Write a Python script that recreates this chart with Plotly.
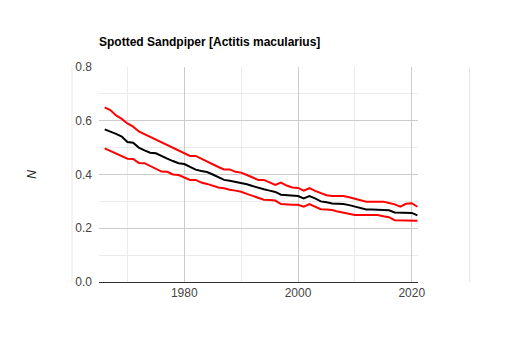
import plotly.graph_objects as go

years = list(range(1966, 2022))
index_mid = [0.568, 0.560, 0.551, 0.541, 0.521, 0.518, 0.500, 0.490, 0.481, 0.479,
             0.468, 0.459, 0.450, 0.442, 0.439, 0.429, 0.418, 0.413, 0.409, 0.400,
             0.390, 0.380, 0.377, 0.373, 0.367, 0.364, 0.357, 0.350, 0.345, 0.340,
             0.335, 0.325, 0.323, 0.321, 0.320, 0.311, 0.320, 0.311, 0.300, 0.297,
             0.292, 0.291, 0.290, 0.286, 0.280, 0.275, 0.270, 0.270, 0.269, 0.268,
             0.267, 0.259, 0.258, 0.258, 0.257, 0.248]
upper_ci = [0.650, 0.640, 0.620, 0.607, 0.590, 0.578, 0.560, 0.550, 0.540, 0.530,
            0.520, 0.510, 0.500, 0.490, 0.478, 0.469, 0.469, 0.458, 0.447, 0.437,
            0.428, 0.419, 0.419, 0.410, 0.407, 0.398, 0.389, 0.380, 0.380, 0.370,
            0.361, 0.370, 0.359, 0.352, 0.350, 0.340, 0.349, 0.339, 0.330, 0.323,
            0.320, 0.320, 0.320, 0.315, 0.309, 0.304, 0.299, 0.299, 0.299, 0.299,
            0.294, 0.289, 0.280, 0.291, 0.293, 0.280]
lower_ci = [0.497, 0.488, 0.478, 0.469, 0.459, 0.458, 0.443, 0.442, 0.432, 0.421,
            0.411, 0.410, 0.400, 0.398, 0.390, 0.380, 0.380, 0.370, 0.365, 0.358,
            0.352, 0.349, 0.343, 0.340, 0.336, 0.328, 0.320, 0.312, 0.306, 0.305,
            0.303, 0.290, 0.288, 0.287, 0.287, 0.280, 0.290, 0.280, 0.271, 0.270,
            0.268, 0.262, 0.257, 0.252, 0.249, 0.249, 0.249, 0.249, 0.249, 0.245,
            0.241, 0.230, 0.229, 0.228, 0.228, 0.228]

title_text = "Spotted Sandpiper [Actitis macularius]"
y_title = "N"

fig = go.Figure()
fig.add_trace(go.Scatter(x=years, y=upper_ci, mode="lines",
                         line=dict(color="#ff0000", width=2), showlegend=False))
fig.add_trace(go.Scatter(x=years, y=lower_ci, mode="lines",
                         line=dict(color="#ff0000", width=2), showlegend=False))
fig.add_trace(go.Scatter(x=years, y=index_mid, mode="lines",
                         line=dict(color="#000000", width=2), showlegend=False))

font_family = "Liberation Sans, Arial, sans-serif"

fig.update_layout(
    width=517, height=350,
    margin=dict(l=99, r=99, t=67, b=68),
    paper_bgcolor="white", plot_bgcolor="white",
    font=dict(family=font_family, size=12, color="#444444"),
    title=dict(text="<b>" + title_text + "</b>", x=99/517, xanchor="left", xref="container",
               y=1 - 42/350, yanchor="middle", yref="container",
               font=dict(family=font_family, size=12, color="#000000")),
    xaxis=dict(range=[1965, 2021.1], tick0=1980, dtick=20, showgrid=True,
               gridcolor="#cccccc", gridwidth=1, zeroline=False,
               showline=True, linecolor="#333333", linewidth=1,
               ticks="", tickfont=dict(size=12, color="#444444"),
               minor=dict(dtick=10, tick0=1980, showgrid=True, gridcolor="#ebebeb", gridwidth=1)),
    yaxis=dict(range=[0, 0.8], tick0=0, dtick=0.2, tickformat=".1f", showgrid=True,
               gridcolor="#cccccc", gridwidth=1, zeroline=False, showline=False,
               ticks="", ticklabelstandoff=6, tickfont=dict(size=12, color="#444444"),
               title=dict(text="<i>" + y_title + "</i>", font=dict(size=12, color="#222222"), standoff=36),
               minor=dict(dtick=0.1, showgrid=True, gridcolor="#ebebeb", gridwidth=1)),
    shapes=[
        dict(type="line", xref="paper", yref="paper", x0=(72-99)/319, x1=(72-99)/319,
             y0=0, y1=1, line=dict(color="#e6e6e6", width=1)),
        dict(type="line", xref="paper", yref="paper", x0=(469.5-99)/319, x1=(469.5-99)/319,
             y0=0, y1=1, line=dict(color="#e6e6e6", width=1)),
    ],
)

fig.write_html("out.html")
